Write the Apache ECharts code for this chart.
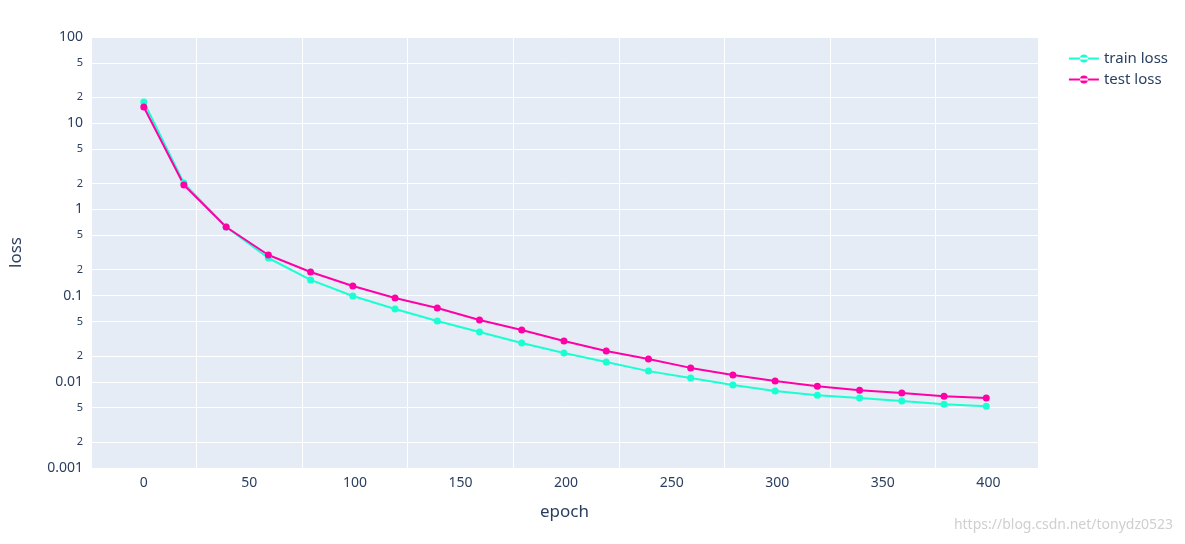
<!DOCTYPE html>
<html><head><meta charset="utf-8">
<script src="https://cdn.jsdelivr.net/npm/echarts@6/dist/echarts.min.js"></script>
<style>html,body{margin:0;padding:0;background:#fff}#c{width:1185px;height:544px}</style>
</head><body><div id="c"></div>
<script>
const epochs = [0,19,39,59,79,99,119,139,159,179,199,219,239,259,279,299,319,339,359,379,399];
const trainLoss = [17.6,2.02,0.625,0.273,0.152,0.099,0.070,0.0507,0.0378,0.0282,0.0216,0.0170,0.0133,0.0111,0.0092,0.0078,0.0070,0.0065,0.0060,0.0055,0.0052];
const testLoss = [15.4,1.92,0.625,0.296,0.188,0.129,0.094,0.0718,0.0521,0.0399,0.0297,0.0228,0.0184,0.0145,0.0120,0.0102,0.0089,0.0080,0.0074,0.0068,0.0065];
const yTicks = [0.001,0.002,0.005,0.01,0.02,0.05,0.1,0.2,0.5,1,2,5,10,20,50,100];
const font = '"Noto Sans", "Open Sans", sans-serif';
const chart = echarts.init(document.getElementById('c'));
function mk(name, ys, color){
  return {name, type:'line', data: epochs.map((e,i)=>[e, ys[i]]), symbol:'circle', symbolSize:7,
    lineStyle:{color, width:2}, itemStyle:{color}};
}
chart.setOption({
  animation:false,
  textStyle:{fontFamily:font},
  grid:{left:86,right:147,top:37,bottom:76,show:true,backgroundColor:'#E5ECF6',borderWidth:0},
  legend:{right:12,top:46,orient:'vertical',itemGap:6,itemWidth:30,itemHeight:8,
    textStyle:{color:'#2a3f5f',fontSize:15,fontFamily:font},
    data:[{name:'train loss',icon:'path://M0,3 L30,3 L30,5 L0,5 Z M11,4 a4,4 0 1,0 8,0 a4,4 0 1,0 -8,0'},{name:'test loss',icon:'path://M0,3 L30,3 L30,5 L0,5 Z M11,4 a4,4 0 1,0 8,0 a4,4 0 1,0 -8,0'}]},
  xAxis:{type:'value',min:-25,max:423.5,interval:50,name:'epoch',nameLocation:'middle',nameGap:36,
    nameTextStyle:{color:'#2a3f5f',fontSize:17},
    axisLine:{show:false},axisTick:{show:false},
    axisLabel:{color:'#2a3f5f',fontSize:14,formatter:v=>(v>=0&&v%50===0)?v:'',customValues:[0,50,100,150,200,250,300,350,400]},
    splitLine:{lineStyle:{color:'#fff',width:1}}},
  yAxis:{type:'log',logBase:10,min:0.001,max:100,name:'loss',nameLocation:'middle',nameGap:66,
    nameTextStyle:{color:'#2a3f5f',fontSize:17},
    axisLine:{show:false},axisTick:{show:false,customValues:yTicks},
    axisLabel:{customValues:yTicks,color:'#2a3f5f',formatter:v=>{
      const e=Math.round(Math.log10(v)); const m=Math.round(v/Math.pow(10,Math.floor(Math.log10(v)+1e-9)));
      if(Math.abs(v-Math.pow(10,e))<1e-9*Math.pow(10,e)) return '{a|'+(+v.toPrecision(3))+'}';
      return '{b|'+m+'}';
    },rich:{a:{fontSize:14,color:'#2a3f5f'},b:{fontSize:11,color:'#2a3f5f'}}},
    splitLine:{lineStyle:{color:'#fff',width:1}}},
  series:[mk('train loss',trainLoss,'#19FFD1'),mk('test loss',testLoss,'#FF00A6')],
  graphic:[{type:'text',right:12,bottom:12,style:{text:'https://blog.csdn.net/tonydz0523',fill:'#cfcfcf',fontSize:14,fontFamily:font}}]
});
</script></body></html>
